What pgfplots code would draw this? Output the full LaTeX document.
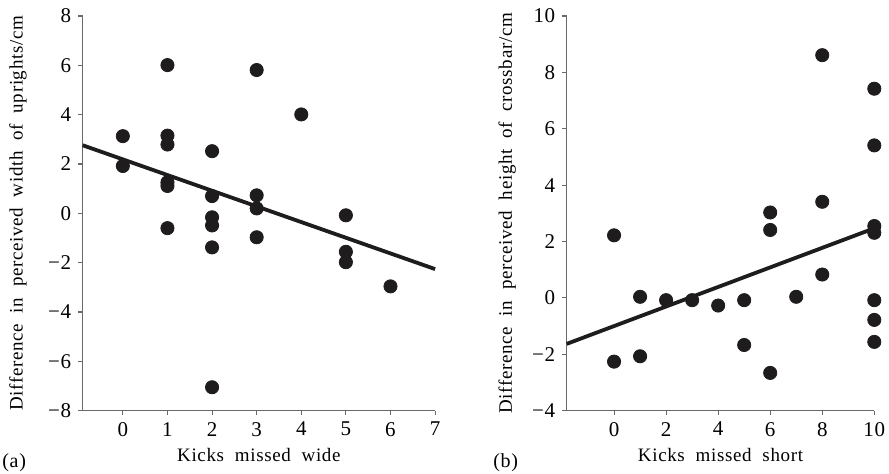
\documentclass[border=0pt]{standalone}
\usepackage{fontspec}
\setmainfont{Liberation Serif}[LetterSpace=3.4,WordSpace=2]
\usepackage{pgfplots}
\pgfplotsset{compat=1.18}

\definecolor{ink}{HTML}{1E1C1D}
\definecolor{spine}{HTML}{6A6A6A}

\pgfplotsset{
  kicks/.style={
    scale only axis,
    height=197.35pt,
    axis x line*=bottom, axis y line*=left,
    axis line style={-,spine,line width=0.55pt},
    every tick/.style={spine,line width=0.55pt},
    tick align=outside, major tick length=2.2pt,
    clip=false,
    font=\fontsize{9.5}{11.4}\selectfont,
    tick label style={font=\fontsize{10.5}{12.6}\selectfont},
    /pgf/number format/assume math mode=true,
    x label style={anchor=base},
    y label style={anchor=base},
  },
  dots/.style={only marks,mark=*,mark size=3.3pt,ink},
  fit/.style={no marks,ink,line width=1.9pt},
}

\begin{document}
\begin{tikzpicture}
\useasboundingbox (0,0) rectangle (444.5pt,237pt);

% (a) missed wide
\begin{axis}[kicks,
  at={(41.35pt,31.65pt)}, anchor=south west,
  width=176.2pt,
  xmin=-0.9, xmax=7, ymin=-8, ymax=8,
  xtick={0,...,7},
  ytick={-8,-6,...,8},
  yticklabels={−8,−6,−4,−2,0,2,4,6,8},
  xlabel={Kicks missed wide},
  ylabel={Difference in perceived width of uprights/cm},
  x label style={at={(axis description cs:0.5,-0.1277)}},
  y label style={at={(axis description cs:-0.1705,0.5)}},
]
\addplot[dots] table {
x y
0 3.13
0 1.92
1 6.01
1 3.15
1 2.79
1 1.26
1 1.11
1 -0.60
2 2.52
2 0.70
2 -0.16
2 -0.49
2 -1.38
2 -7.05
3 5.81
3 0.73
3 0.20
3 -0.97
4 4.01
5 -0.08
5 -1.56
5 -1.98
6 -2.96
};
\addplot[fit] coordinates {(-0.9,2.76) (7,-2.26)};
\end{axis}

% (b) missed short
\begin{axis}[kicks,
  at={(283.35pt,31.65pt)}, anchor=south west,
  width=153.8pt,
  xmin=-1.82, xmax=10, ymin=-4, ymax=10,
  xtick={0,2,...,10},
  ytick={-4,-2,...,10},
  yticklabels={−4,−2,0,2,4,6,8,10},
  xlabel={Kicks missed short},
  ylabel={Difference in perceived height of crossbar/cm},
  x label style={at={(axis description cs:0.5,-0.1277)}},
  y label style={at={(axis description cs:-0.178,0.5)}},
]
\addplot[dots] table {
x y
0 2.22
0 -2.26
1 0.04
1 -2.07
2 -0.08
3 -0.08
4 -0.27
5 -0.08
5 -1.67
6 3.03
6 2.41
6 -2.66
7 0.04
8 8.61
8 3.41
8 0.83
10 7.42
10 5.41
10 2.55
10 2.31
10 -0.08
10 -0.78
10 -1.56
};
\addplot[fit] coordinates {(-1.82,-1.63) (10,2.47)};
\end{axis}

\node[anchor=base west,inner sep=0pt,font=\fontsize{10}{12}\selectfont] at (1pt,3pt) {(a)};
\node[anchor=base west,inner sep=0pt,font=\fontsize{10}{12}\selectfont] at (246.5pt,3pt) {(b)};
\end{tikzpicture}
\end{document}
